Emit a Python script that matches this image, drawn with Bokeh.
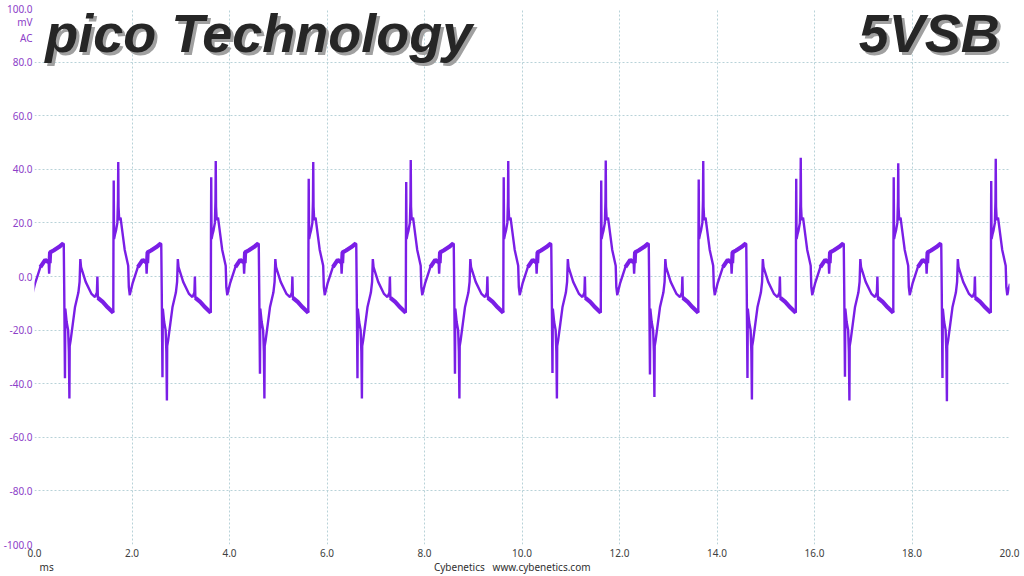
import numpy as np
from bokeh.plotting import figure
from bokeh.models import Label, Range1d, FixedTicker, NumeralTickFormatter, LinearAxis
from bokeh.embed import file_html
from bokeh.resources import INLINE

# ---- data ----
period_ms = 2.0
x_ticks = [0, 2, 4, 6, 8, 10, 12, 14, 16, 18, 20]
y_ticks = [-100, -80, -60, -40, -20, 0, 20, 40, 60, 80, 100]
unit_ticks = {95: "mV", 89: "AC"}
caption_ticks = {0.25: "ms", 9.8: "Cybenetics\u00a0\u00a0 www.cybenetics.com"}

# shape of one ripple cycle (first cycle, time in ms, value in mV)
cycle_t = [-0.045, 0.01, 0.12, 0.22, 0.29, 0.30, 0.31, 0.32, 0.39, 0.50, 0.593,
           0.600, 0.610, 0.625, 0.632, 0.66, 0.690, 0.705, 0.716, 0.722, 0.74,
           0.83, 0.90, 0.925, 0.940, 0.955, 1.05, 1.17, 1.24, 1.28, 1.29, 1.30,
           1.40, 1.50, 1.616, 1.620, 1.625, 1.632, 1.655, 1.67, 1.700, 1.712,
           1.718, 1.724, 1.738, 1.765, 1.85, 1.922, 1.935, 1.955]
cycle_v = [-6.8, -2.7, 3.5, 6.2, 5.3, 1.0, 5.0, 9.0, 9.7, 11.0, 12.4,
           12.0, -5.0, -37.5, -12.0, -17.0, -20.0, -28.0, -45.5, -26.0, -24.0,
           -11.5, -6.0, -2.0, 6.5, 3.5, -2.0, -6.5, -7.7, -6.0, 0.0, -8.0,
           -9.5, -11.5, -13.5, 14.0, 35.5, 14.0, 16.0, 17.0, 20.0, 28.0,
           43.0, 26.0, 21.0, 22.0, 10.0, 4.0, -4.0, -7.0]
# per-cycle spike extremes (mV)
neg_spike_a = [-38.0, -37.6, -36.3, -38.0, -36.3, -36.0, -36.6, -37.9, -37.4, -37.9, -37.0]
neg_spike_b = [-45.5, -46.3, -45.5, -45.5, -45.5, -45.5, -45.0, -45.9, -46.3, -46.5, -46.0]
pos_spike_a = [35.8, 37.0, 36.5, 35.3, 37.0, 35.8, 36.2, 36.5, 37.0, 35.6, 36.0]
pos_spike_b = [42.7, 43.1, 42.7, 43.5, 43.1, 43.3, 43.1, 44.3, 42.3, 43.9, 43.0]
# stretches of each cycle where the ripple noise makes the trace look wider
noisy_from = [0.12, 0.31, 1.30]
noisy_to = [0.29, 0.593, 1.616]

i_na = cycle_t.index(0.625)
i_nb = cycle_t.index(0.716)
i_pa = cycle_t.index(1.625)
i_pb = cycle_t.index(1.718)

xs, ys = [], []
band_xs, band_ys = [], []
for k in range(len(neg_spike_a)):
    vals = list(cycle_v)
    vals[i_na] = neg_spike_a[k]
    vals[i_nb] = neg_spike_b[k]
    vals[i_pa] = pos_spike_a[k]
    vals[i_pb] = pos_spike_b[k]
    for t, v in zip(cycle_t, vals):
        tt = t + k * period_ms
        if tt <= 20.05:
            xs.append(tt)
            ys.append(v)
    for a, b in zip(noisy_from, noisy_to):
        i0, i1 = cycle_t.index(a), cycle_t.index(b)
        seg_t = [cycle_t[i] + k * period_ms for i in range(i0, i1 + 1)]
        if seg_t[-1] <= 20.05:
            band_xs.append(seg_t)
            band_ys.append(vals[i0:i1 + 1])

# ---- figure ----
LINE = "#7a1ee6"
YLAB = "#8c40c8"
GRID = "#b8d2d8"
FONT = "Noto Sans"

p = figure(width=1024, height=576, output_backend="svg", toolbar_location=None,
           x_range=Range1d(0, 20), y_range=Range1d(-100, 100),
           min_border_top=8, min_border_right=15, min_border_left=0, min_border_bottom=0)
p.outline_line_color = None
p.background_fill_color = "white"
p.border_fill_color = "white"

def style_axis(ax, color):
    ax.axis_line_color = None
    ax.major_tick_line_color = None
    ax.minor_tick_line_color = None
    ax.major_tick_out = 0
    ax.major_tick_in = 0
    ax.major_label_text_font = FONT
    ax.major_label_text_font_size = "10px"
    ax.major_label_text_color = color

style_axis(p.xaxis[0], "#404040")
style_axis(p.yaxis[0], YLAB)

p.xaxis.ticker = FixedTicker(ticks=x_ticks)
p.xaxis.formatter = NumeralTickFormatter(format="0.0")
p.xaxis.major_label_standoff = 4

p.yaxis.ticker = FixedTicker(ticks=y_ticks + list(unit_ticks.keys()))
p.yaxis.formatter = NumeralTickFormatter(format="0.0")
p.yaxis.major_label_overrides = unit_ticks
p.yaxis.major_label_standoff = 2

# caption row under the x tick labels
cap_axis = LinearAxis(ticker=FixedTicker(ticks=list(caption_ticks.keys())),
                      major_label_overrides=caption_ticks)
style_axis(cap_axis, "#303030")
cap_axis.major_label_standoff = 0
p.add_layout(cap_axis, "below")

p.xgrid.ticker = FixedTicker(ticks=x_ticks)
p.ygrid.ticker = FixedTicker(ticks=y_ticks)
for g in (p.xgrid[0], p.ygrid[0]):
    g.grid_line_color = GRID
    g.grid_line_dash = "2 2"
    g.grid_line_width = 1

p.line(xs, ys, line_color=LINE, line_width=2.4)
p.multi_line(band_xs, band_ys, line_color=LINE, line_width=4.2)

# big titles with shadow
for txt, x, align in (("pico Technology", 0.22, "left"), ("5VSB", 19.8, "right")):
    p.add_layout(Label(x=x, y=91.0, text=txt, text_align=align, text_baseline="alphabetic",
                       x_offset=3, y_offset=-3,
                       text_font="Liberation Sans", text_font_size="54px",
                       text_font_style="bold italic", text_color="#a0a0a0"))
    p.add_layout(Label(x=x, y=91.0, text=txt, text_align=align, text_baseline="alphabetic",
                       text_font="Liberation Sans", text_font_size="54px",
                       text_font_style="bold italic", text_color="#262626"))

open("out.html", "w").write(file_html(p, INLINE))
